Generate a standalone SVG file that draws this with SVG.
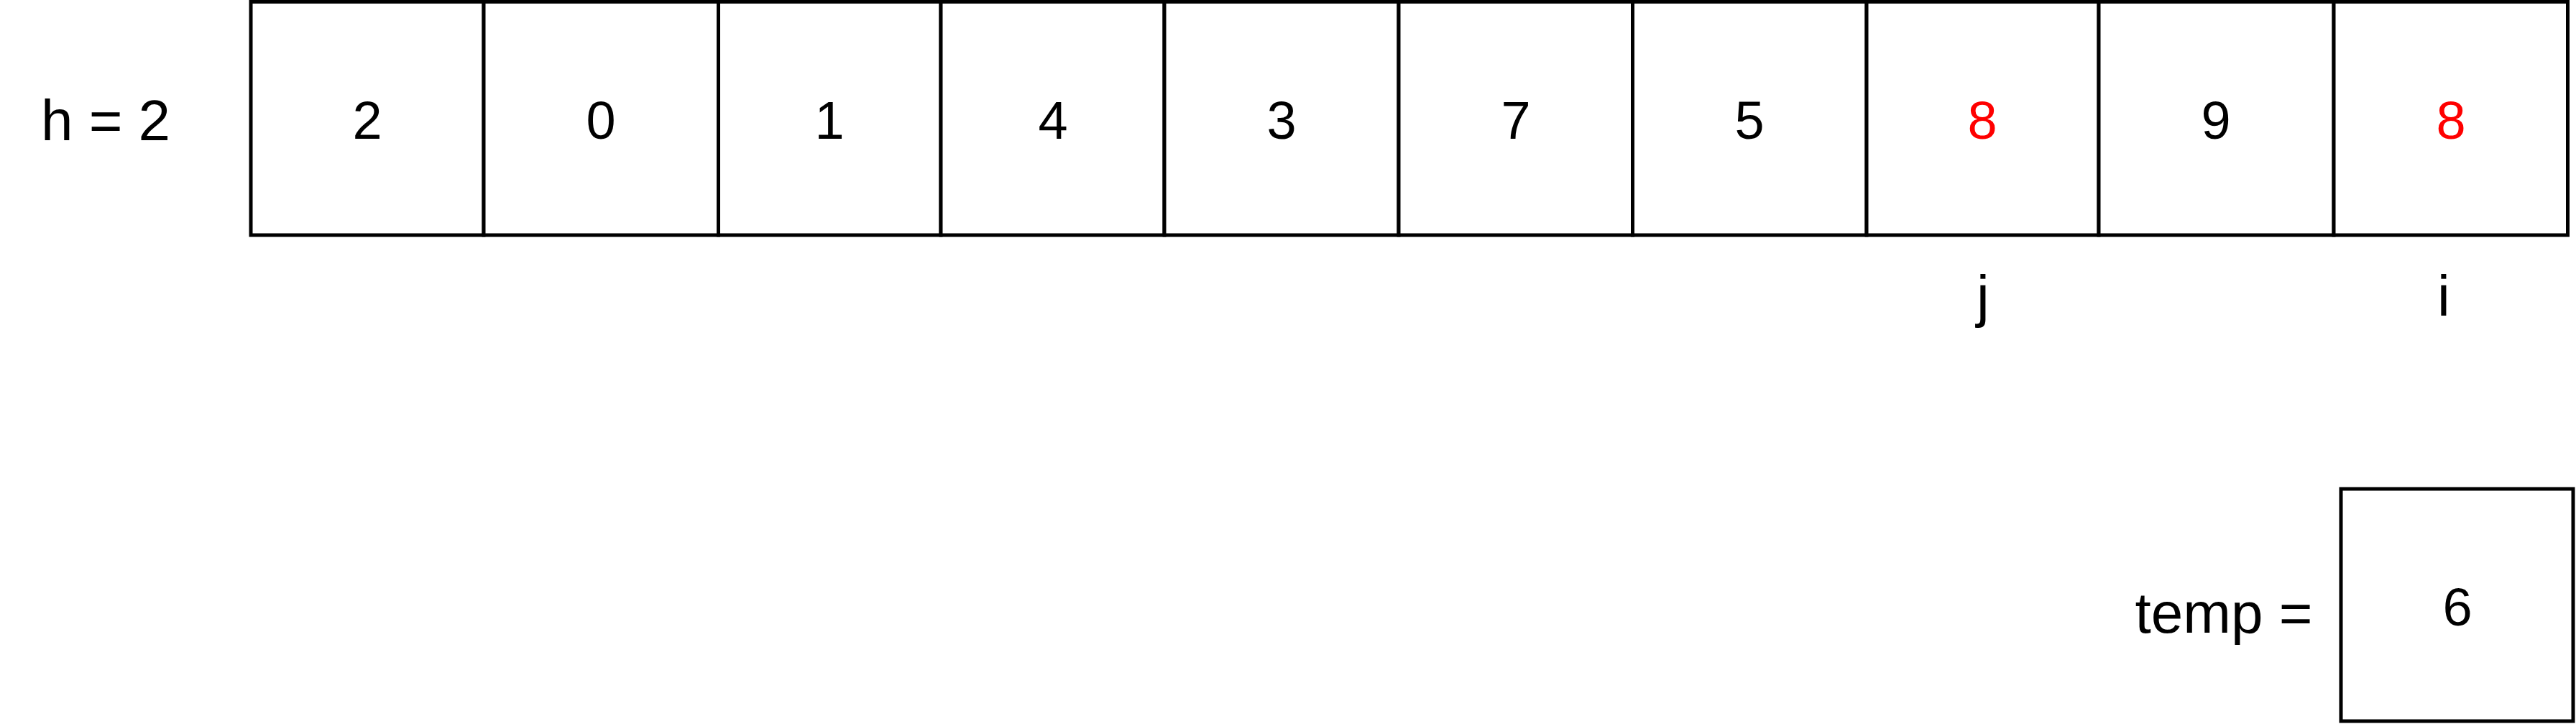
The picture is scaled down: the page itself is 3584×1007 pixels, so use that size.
<svg xmlns="http://www.w3.org/2000/svg" width="3584" height="1007" viewBox="0 0 3584 1007">
<style>
.cell{fill:#fff;stroke:#000;stroke-width:5}
.num{font-family:"Liberation Sans",Arial,sans-serif;font-size:74px;text-anchor:middle;fill:#000}
.red{fill:#FF0000}
.lbl{font-family:"Liberation Sans",Arial,sans-serif;font-size:80px;text-anchor:middle;fill:#000}
</style>
<rect width="3584" height="1007" fill="#fff"/>
<text class="lbl" x="147" y="195">h = 2</text>
<g id="cell0"><rect class="cell" x="349" y="2.5" width="324" height="324.5"/><text class="num" x="511" y="193">2</text></g>
<g id="cell1"><rect class="cell" x="673" y="2.5" width="326.5" height="324.5"/><text class="num" x="836" y="193">0</text></g>
<g id="cell2"><rect class="cell" x="999.5" y="2.5" width="309.5" height="324.5"/><text class="num" x="1154" y="193">1</text></g>
<g id="cell3"><rect class="cell" x="1309" y="2.5" width="311" height="324.5"/><text class="num" x="1465" y="193">4</text></g>
<g id="cell4"><rect class="cell" x="1620" y="2.5" width="326" height="324.5"/><text class="num" x="1783" y="193">3</text></g>
<g id="cell5"><rect class="cell" x="1946" y="2.5" width="325.5" height="324.5"/><text class="num" x="2109" y="193">7</text></g>
<g id="cell6"><rect class="cell" x="2271.5" y="2.5" width="325.5" height="324.5"/><text class="num" x="2434" y="193">5</text></g>
<g id="cell7"><rect class="cell" x="2597" y="2.5" width="323" height="324.5"/><text class="num red" x="2758" y="193">8</text></g>
<g id="cell8"><rect class="cell" x="2920" y="2.5" width="327" height="324.5"/><text class="num" x="3083" y="193">9</text></g>
<g id="cell9"><rect class="cell" x="3247" y="2.5" width="325.5" height="324.5"/><text class="num red" x="3410" y="193">8</text></g>
<g id="connectors"></g>
<text class="lbl" x="2759" y="439">j</text>
<text class="lbl" x="3400" y="439">i</text>
<text class="lbl" x="3094" y="880">temp =</text>
<g id="temp"><rect class="cell" x="3257" y="680" width="323" height="323"/><text class="num" x="3419" y="870">6</text></g>
</svg>
